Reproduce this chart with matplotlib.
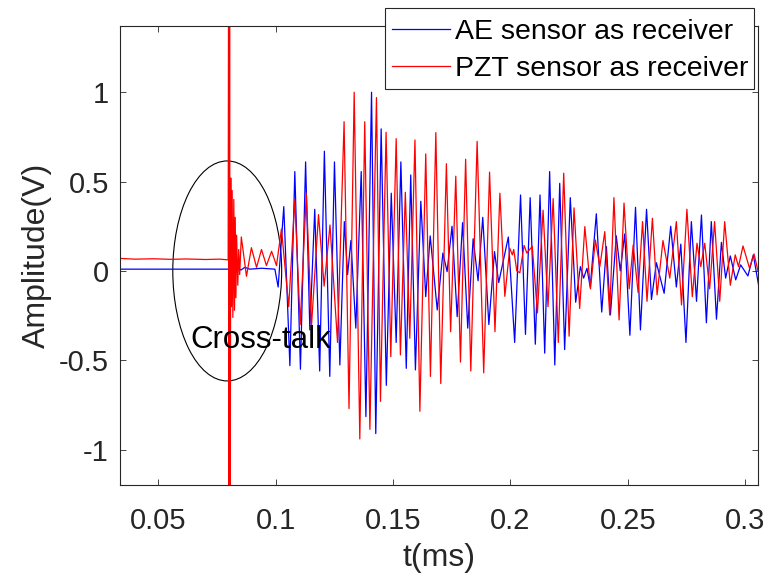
import matplotlib
matplotlib.use("Agg")
import matplotlib.pyplot as plt
from matplotlib.patches import Ellipse, Rectangle

# ---------- DATA (t in ms, amplitude in V) ----------
ae_t = [0.0336, 0.0813, 0.0821, 0.0830, 0.0838, 0.0851, 0.0868, 0.0889, 0.0940, 0.0996,
        0.1010, 0.1034, 0.1060, 0.1081, 0.1105, 0.1127, 0.1145, 0.1166, 0.1187, 0.1207,
        0.1230, 0.1250, 0.1273, 0.1292, 0.1306, 0.1320, 0.1341, 0.1364, 0.1384, 0.1408,
        0.1426, 0.1449, 0.1471, 0.1492, 0.1513, 0.1533, 0.1556, 0.1575, 0.1595, 0.1618,
        0.1639, 0.1658, 0.1688, 0.1712, 0.1730, 0.1751, 0.1773, 0.1796, 0.1818, 0.1841,
        0.1862, 0.1882, 0.1908, 0.1932, 0.1950, 0.1991, 0.2018, 0.2043, 0.2064, 0.2084,
        0.2106, 0.2126, 0.2146, 0.2167, 0.2189, 0.2210, 0.2231, 0.2255, 0.2278, 0.2298,
        0.2312, 0.2326, 0.2340, 0.2366, 0.2389, 0.2409, 0.2426, 0.2451, 0.2468, 0.2487,
        0.2509, 0.2533, 0.2554, 0.2580, 0.2601, 0.2622, 0.2655, 0.2683, 0.2707, 0.2726,
        0.2748, 0.2771, 0.2793, 0.2814, 0.2835, 0.2856, 0.2878, 0.2899, 0.2917, 0.2937,
        0.2960, 0.2981, 0.3012, 0.3035, 0.3061]
ae_v = [0.01, 0.01, 0.03, -0.01, 0.02, 0.005, 0.02, 0.01, 0.015, 0.01,
        -0.09, 0.36, -0.53, 0.556, -0.55, 0.61, -0.33, 0.345, -0.56, 0.67,
        -0.59, 0.61, -0.526, 0.276, -0.02, 0.17, -0.32, 0.556, -0.815, 1.0,
        -0.91, 0.795, -0.64, 0.435, -0.40, 0.61, -0.545, 0.537, -0.554, 0.39,
        -0.144, 0.196, -0.218, 0.10, -0.004, 0.25, -0.256, 0.27, -0.32, 0.18,
        -0.055, 0.30, -0.30, 0.108, -0.065, 0.19, -0.40, 0.425, -0.355, 0.41,
        -0.41, 0.425, -0.46, 0.556, -0.526, 0.49, -0.44, 0.41, -0.175, 0.024,
        -0.04, 0.015, -0.09, 0.32, -0.23, 0.136, -0.246, 0.196, 0.0, 0.207,
        -0.36, 0.356, -0.33, 0.345, -0.16, 0.046, -0.125, 0.25, -0.09, 0.15,
        -0.40, 0.276, -0.17, 0.313, -0.29, 0.276, -0.27, 0.16, -0.04, 0.084,
        -0.05, 0.034, -0.028, 0.09, -0.106]

pzt_t = [0.0336, 0.0400, 0.0480, 0.0550, 0.0620, 0.0700, 0.0760, 0.0797,
         0.0799, 0.0801, 0.0803, 0.0805,
         0.0808, 0.0811, 0.0814, 0.0817, 0.0821, 0.0824, 0.0827, 0.0830, 0.0833, 0.0838,
         0.0842, 0.0846,
         0.0853, 0.0875, 0.0896, 0.0918, 0.0939, 0.0960, 0.0982, 0.1003, 0.1024, 0.1055,
         0.1081, 0.1104, 0.1130, 0.1152, 0.1182, 0.1206, 0.1231, 0.1263, 0.1291, 0.1312,
         0.1334, 0.1358, 0.1379, 0.1401, 0.1429, 0.1446, 0.1470, 0.1490, 0.1513, 0.1531,
         0.1552, 0.1571, 0.1593, 0.1614, 0.1639, 0.1659, 0.1682, 0.1703, 0.1727, 0.1745,
         0.1767, 0.1787, 0.1809, 0.1831, 0.1858, 0.1886, 0.1911, 0.1934, 0.1955, 0.1976,
         0.1997, 0.2008, 0.2014, 0.2027, 0.2040, 0.2058, 0.2070, 0.2093, 0.2115, 0.2139,
         0.2160, 0.2182, 0.2204, 0.2227, 0.2250, 0.2271, 0.2295, 0.2317, 0.2341, 0.2362,
         0.2381, 0.2402, 0.2423, 0.2441, 0.2463, 0.2484, 0.2506, 0.2523, 0.2544, 0.2563,
         0.2582, 0.2605, 0.2625, 0.2650, 0.2679, 0.2707, 0.2729, 0.2752, 0.2775, 0.2795,
         0.2811, 0.2828, 0.2849, 0.2870, 0.2892, 0.2913, 0.2937, 0.2958, 0.2972, 0.2991,
         0.3019, 0.3038, 0.3055]
pzt_v = [0.070, 0.066, 0.068, 0.065, 0.067, 0.064, 0.066, 0.062,
         2.0, -2.0, 2.0, -2.0,
         0.52, -0.20, 0.45, -0.26, 0.40, -0.22, 0.30, -0.15, 0.20, -0.08,
         0.12, -0.02,
         0.19, -0.03, 0.13, 0.02, 0.12, 0.03, 0.11, 0.03, 0.235, -0.20,
         0.40, -0.30, 0.435, -0.31, 0.315, -0.085, 0.257, -0.40, 0.835, -0.77,
         1.0, -0.94, 0.835, -0.886, 0.97, -0.73, 0.776, -0.48, 0.74, -0.47,
         0.44, -0.377, 0.733, -0.785, 0.655, -0.59, 0.774, -0.63, 0.60, -0.34,
         0.53, -0.51, 0.625, -0.56, 0.725, -0.57, 0.553, -0.34, 0.435, -0.142,
         0.127, 0.09, 0.12, 0.0, -0.01, 0.143, 0.10, 0.138, -0.235, 0.34,
         -0.20, 0.405, -0.40, 0.547, -0.365, 0.353, -0.21, 0.248, -0.10, 0.173,
         0.024, 0.22, -0.246, 0.41, -0.274, 0.38, -0.10, 0.145, -0.12, 0.276,
         -0.17, 0.295, -0.134, 0.17, -0.04, 0.276, -0.19, 0.345, -0.144, 0.155,
         0.024, 0.155, -0.10, 0.276, -0.17, 0.276, -0.08, 0.09, 0.024, 0.14,
         0.015, 0.095, 0.0]

x_ticks = [0.05, 0.1, 0.15, 0.2, 0.25, 0.3]
x_tick_labels = ["0.05", "0.1", "0.15", "0.2", "0.25", "0.3"]
y_ticks = [-1, -0.5, 0, 0.5, 1]
y_tick_labels = ["-1", "-0.5", "0", "0.5", "1"]
series_labels = ["AE sensor as receiver", "PZT sensor as receiver"]

# cross-talk marker (ellipse centre, width, height) and its caption
crosstalk_center = (0.0793, 0.0)
crosstalk_size = (0.0464, 1.231)
crosstalk_text_pos = (0.0634, -0.433)

# ---------- PLOT ----------
plt.rcParams['font.family'] = ['Liberation Sans', 'DejaVu Sans']
dark = '#262626'
W, H = 770, 582

fig = plt.figure(figsize=(7.7, 5.82), dpi=100)
ax = fig.add_axes([120 / W, 1 - 485.4 / H, 638 / W, 459.3 / H])

l_ae, = ax.plot(ae_t, ae_v, color=(0, 0, 1), lw=0.9)
l_pzt, = ax.plot(pzt_t, pzt_v, color=(1, 0, 0), lw=0.9)

ax.add_patch(Ellipse(crosstalk_center, crosstalk_size[0], crosstalk_size[1],
                     fill=False, ec='k', lw=0.8))
ax.text(crosstalk_text_pos[0], crosstalk_text_pos[1], "Cross-talk",
        fontsize=22.5, ha='left', va='baseline', color='k')

ax.set_xlim(0.0336, 0.3055)
ax.set_ylim(-1.2, 1.37)
ax.set_xticks(x_ticks)
ax.set_xticklabels(x_tick_labels)
ax.set_yticks(y_ticks)
ax.set_yticklabels(y_tick_labels)
ax.tick_params(direction='in', length=4.3, width=0.6, top=True, right=True,
               labelsize=21, colors=dark)
ax.tick_params(axis='y', pad=8)
ax.tick_params(axis='x', pad=15.5)
for s in ax.spines.values():
    s.set_color(dark)
    s.set_linewidth(0.8)

ax.set_xlabel("t(ms)", fontsize=23, color=dark, labelpad=6)
ax.set_ylabel("Amplitude(V)", fontsize=23, color=dark, labelpad=5)

# legend box (MATLAB style, sits over the top axis line)
fig.patches.append(Rectangle((385 / W, 1 - 89.3 / H), 369 / W, 81 / H,
                             transform=fig.transFigure, facecolor='white',
                             edgecolor=dark, lw=0.8, zorder=1.5))
fig.legend([l_ae, l_pzt], series_labels, loc='center left',
           bbox_to_anchor=(391.7 / W, 1 - 50.5 / H), bbox_transform=fig.transFigure,
           fontsize=20.5, frameon=False, borderpad=0, borderaxespad=0,
           labelspacing=0.37, handlelength=2.05, handletextpad=0.18).set_zorder(2)

fig.savefig("out.png", dpi=100)
